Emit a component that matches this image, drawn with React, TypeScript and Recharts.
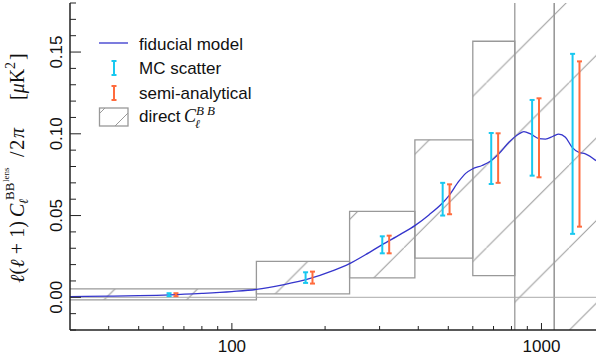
import {
  ComposedChart,
  ErrorBar,
  Line,
  ReferenceArea,
  ReferenceLine,
  Scatter,
  XAxis,
  YAxis,
} from 'recharts';

// fiducial lensing BB spectrum
const modelEll = [
  30, 40, 50, 63, 80, 100, 120, 146, 179, 210, 239, 270, 306, 350, 391, 433, 478,
  502, 541, 569, 598, 643, 684, 728, 785, 845, 877, 922, 980, 1030, 1090, 1137,
  1195, 1256, 1319, 1386, 1500,
];
const modelDl = [
  0.0004, 0.0007, 0.001, 0.0015, 0.0024, 0.0035, 0.0048, 0.0076, 0.0115, 0.016,
  0.0204, 0.026, 0.0322, 0.0385, 0.044, 0.0504, 0.0575, 0.062, 0.071, 0.0758,
  0.0785, 0.0806, 0.0832, 0.0877, 0.0948, 0.0999, 0.1013, 0.0999, 0.0971, 0.0968,
  0.0985, 0.0998, 0.0979, 0.0917, 0.0887, 0.0877, 0.0836,
];

// direct C_l^BB boxes
const binLo = [20, 120, 240, 390, 600, 820, 1100];
const binHi = [120, 240, 390, 600, 820, 1100, 2000];
const directLo = [-0.0016, 0.0021, 0.0119, 0.0239, 0.0133, -0.1, -0.1];
const directHi = [0.0051, 0.022, 0.0526, 0.0963, 0.1566, 0.3, 0.3];

// band powers
const binCenter = [64.3, 177.5, 314, 492, 706, 957, 1293];
const mcLow = [0.0007, 0.0088, 0.0269, 0.05, 0.0693, 0.0744, 0.0388];
const mcHigh = [0.0025, 0.0153, 0.0373, 0.07, 0.1005, 0.1207, 0.1489];
const saLow = [0.0007, 0.0084, 0.0269, 0.0508, 0.07, 0.0734, 0.0432];
const saHigh = [0.0025, 0.0157, 0.0377, 0.0691, 0.1003, 0.1217, 0.1443];

const xTicks = [40, 50, 60, 70, 80, 90, 100, 200, 300, 400, 500, 600, 700, 800, 900, 1000];
const xMajor = [100, 1000];
const yTicks = [
  -0.02, -0.01, 0, 0.01, 0.02, 0.03, 0.04, 0.05, 0.06, 0.07, 0.08, 0.09, 0.1, 0.11,
  0.12, 0.13, 0.14, 0.15, 0.16, 0.17, 0.18,
];
const yMajor = [0, 0.05, 0.1, 0.15];

const dodge = 1.026;
const blue = '#3535cc';
const cyan = '#18c8f0';
const orange = '#ff6b3d';
const gray = '#999';
const sans = '"Liberation Sans", Arial, sans-serif';
const serif = '"Liberation Serif", "DejaVu Serif", serif';

const model = modelEll.map((l, i) => ({ l, v: modelDl[i] }));
const mc = binCenter.map((c, i) => ({
  l: c / dodge,
  v: (mcHigh[i] + mcLow[i]) / 2,
  err: (mcHigh[i] - mcLow[i]) / 2,
}));
const sa = binCenter.map((c, i) => ({
  l: c * dodge,
  v: (saHigh[i] + saLow[i]) / 2,
  err: (saHigh[i] - saLow[i]) / 2,
}));

const isMajorY = (v: number) => yMajor.some((m) => Math.abs(m - v) < 1e-9);

const BottomTick = ({ x, y, payload }: any) => {
  const major = xMajor.includes(payload.value);
  return (
    <g>
      <line x1={x} x2={x} y1={y} y2={y - (major ? 7 : 4)} stroke="#222" />
      {major && (
        <text x={x} y={y + 22} textAnchor="middle" fontSize={17} fontFamily={sans} fill="#111">
          {payload.value}
        </text>
      )}
    </g>
  );
};

const TopTick = ({ x, y, payload }: any) => {
  const major = xMajor.includes(payload.value);
  return <line x1={x} x2={x} y1={y} y2={y + (major ? 7 : 4)} stroke="#222" />;
};

const LeftTick = ({ x, y, payload }: any) => {
  const major = isMajorY(payload.value);
  return (
    <g>
      <line x1={x} x2={x + (major ? 11 : 6)} y1={y} y2={y} stroke="#222" />
      {major && (
        <text
          transform={`translate(${x - 8},${y}) rotate(-90)`}
          textAnchor="middle"
          fontSize={17}
          fontFamily={sans}
          fill="#111"
        >
          {payload.value.toFixed(2)}
        </text>
      )}
    </g>
  );
};

const RightTick = ({ x, y, payload }: any) => {
  const major = isMajorY(payload.value);
  return <line x1={x} x2={x - (major ? 11 : 6)} y1={y} y2={y} stroke="#222" />;
};

const IBar = ({ x, y1, y2, color }: { x: number; y1: number; y2: number; color: string }) => (
  <g stroke={color} strokeWidth={2}>
    <line x1={x} x2={x} y1={y1} y2={y2} />
    <line x1={x - 2.5} x2={x + 2.5} y1={y1} y2={y1} />
    <line x1={x - 2.5} x2={x + 2.5} y1={y2} y2={y2} />
  </g>
);

const Overlay = () => (
  <svg
    width={598}
    height={360}
    style={{ position: 'absolute', left: 0, top: 0, pointerEvents: 'none' }}
  >
    {/* legend */}
    <g fontFamily={sans} fontSize={17} fill="#111">
      <line x1={99} x2={128} y1={43} y2={43} stroke={blue} strokeWidth={1.3} />
      <text x={139} y={50}>fiducial model</text>
      <IBar x={114} y1={61} y2={75} color={cyan} />
      <text x={139} y={74}>MC scatter</text>
      <IBar x={114} y1={86} y2={100} color={orange} />
      <text x={139} y={98.5}>semi-analytical</text>
      <rect x={99.5} y={108} width={28.5} height={18} fill="none" stroke={gray} strokeWidth={1.3} />
      <line x1={99.5} y1={113.5} x2={105} y2={108} stroke={gray} />
      <line x1={115} y1={126} x2={128} y2={113} stroke={gray} />
      <text x={139} y={122}>direct</text>
      <text x={184} y={122} fontFamily={serif} fontStyle="italic" fontSize={18}>C</text>
      <text x={196} y={115} fontFamily={serif} fontStyle="italic" fontSize={13} letterSpacing={3}>BB</text>
      <text x={195} y={128} fontFamily={serif} fontStyle="italic" fontSize={12}>ℓ</text>
    </g>
    {/* y axis title */}
    <g transform="rotate(-90)" fontFamily={serif} fill="#111">
      <text x={-283} y={24} fontSize={20} textLength={62} lengthAdjust="spacing">
        <tspan fontStyle="italic">ℓ</tspan>(<tspan fontStyle="italic">ℓ</tspan> + 1)
      </text>
      <text x={-217} y={24} fontSize={20} fontStyle="italic">C</text>
      <text x={-204} y={28} fontSize={13} fontStyle="italic">ℓ</text>
      <text x={-200} y={14} fontSize={13}>BB</text>
      <text x={-182} y={9} fontSize={9}>lens</text>
      <text x={-157} y={24} fontSize={20} textLength={29} lengthAdjust="spacing">
        /2<tspan fontStyle="italic">π</tspan>
      </text>
      <text x={-100} y={24} fontSize={20}>
        [<tspan fontStyle="italic">μ</tspan>K
      </text>
      <text x={-69} y={15} fontSize={14}>2</text>
      <text x={-60} y={24} fontSize={20}>]</text>
    </g>
  </svg>
);

export default function App() {
  return (
    <div style={{ position: 'absolute', left: 0, top: 0, width: 598, height: 360, background: '#fff' }}>
      <ComposedChart width={598} height={360} margin={{ top: 3, right: 2, bottom: 0, left: 0 }}>
        <defs>
          <pattern id="hatch" patternUnits="userSpaceOnUse" x={73.5} y={0} width={82.6} height={82.6}>
            <line x1={0} y1={82.6} x2={82.6} y2={0} stroke="#9a9a9a" strokeWidth={1} />
          </pattern>
        </defs>
        <XAxis
          dataKey="l"
          type="number"
          scale="log"
          domain={[30, 1500]}
          allowDataOverflow
          ticks={xTicks}
          interval={0}
          tick={(p: any) => <BottomTick {...p} />}
          tickSize={0}
          tickMargin={0}
          tickLine={false}
          axisLine={{ stroke: '#222', strokeWidth: 1.5 }}
          height={30}
        />
        <XAxis
          xAxisId="t"
          orientation="top"
          dataKey="l"
          type="number"
          scale="log"
          domain={[30, 1500]}
          allowDataOverflow
          ticks={xTicks}
          interval={0}
          tick={(p: any) => <TopTick {...p} />}
          tickSize={0}
          tickMargin={0}
          tickLine={false}
          axisLine={{ stroke: '#222', strokeWidth: 1.5 }}
          height={0}
        />
        <YAxis
          dataKey="v"
          type="number"
          domain={[-0.02, 0.18]}
          allowDataOverflow
          ticks={yTicks}
          interval={0}
          tick={(p: any) => <LeftTick {...p} />}
          tickSize={0}
          tickMargin={0}
          tickLine={false}
          axisLine={{ stroke: '#222', strokeWidth: 1.5 }}
          width={70}
        />
        <YAxis
          yAxisId="r"
          orientation="right"
          type="number"
          domain={[-0.02, 0.18]}
          allowDataOverflow
          ticks={yTicks}
          interval={0}
          tick={(p: any) => <RightTick {...p} />}
          tickSize={0}
          tickMargin={0}
          tickLine={false}
          axisLine={{ stroke: '#222', strokeWidth: 1.5 }}
          width={0}
        />
        {binLo.map((lo, i) => (
          <ReferenceArea
            key={i}
            x1={lo}
            x2={binHi[i]}
            y1={directLo[i]}
            y2={directHi[i]}
            ifOverflow="hidden"
            fill="url(#hatch)"
            fillOpacity={1}
            stroke={gray}
            strokeWidth={1.3}
          />
        ))}
        <ReferenceLine y={0} stroke="#aaa" strokeWidth={1} />
        <Line
          data={model}
          dataKey="v"
          type="monotone"
          stroke={blue}
          strokeWidth={1.3}
          dot={false}
          isAnimationActive={false}
        />
        <Scatter data={mc} dataKey="v" shape={() => <g />} isAnimationActive={false}>
          <ErrorBar dataKey="err" direction="y" width={2.5} stroke={cyan} strokeWidth={2} isAnimationActive={false} />
        </Scatter>
        <Scatter data={sa} dataKey="v" shape={() => <g />} isAnimationActive={false}>
          <ErrorBar dataKey="err" direction="y" width={2.5} stroke={orange} strokeWidth={2} isAnimationActive={false} />
        </Scatter>
      </ComposedChart>
      <Overlay />
    </div>
  );
}
